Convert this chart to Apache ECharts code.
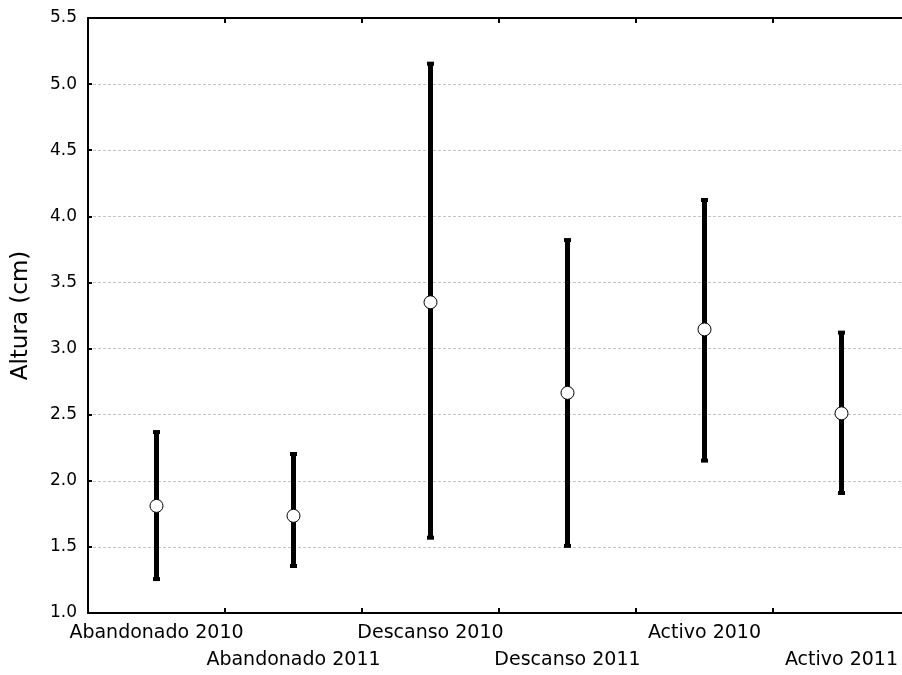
<!DOCTYPE html>
<html>
<head>
<meta charset="utf-8">
<script src="https://cdn.jsdelivr.net/npm/echarts@6/dist/echarts.min.js"></script>
<style>html,body{margin:0;padding:0;background:#fff;}#chart{width:902px;height:675px;}</style>
</head>
<body>
<div id="chart"></div>
<script>
const categories = ['Abandonado 2010', 'Abandonado 2011', 'Descanso 2010', 'Descanso 2011', 'Activo 2010', 'Activo 2011'];
const means = [1.81, 1.735, 3.35, 2.665, 3.145, 2.51];
const upper = [2.376, 2.21, 5.162, 3.828, 4.131, 3.128];
const lower = [1.249, 1.348, 1.562, 1.50, 2.145, 1.90];
const yTicks = { min: 1.0, max: 5.5, interval: 0.5 };

const chart = echarts.init(document.getElementById('chart'), null, { renderer: 'canvas' });
const font = 'DejaVu Sans';
const errData = categories.map((c, i) => [i, lower[i], upper[i]]);

chart.setOption({
  animation: false,
  backgroundColor: '#fff',
  grid: { left: 88, top: 18, width: 822, height: 595, containLabel: false, outerBoundsMode: 'none' },
  xAxis: [{
    type: 'category',
    data: categories,
    boundaryGap: true,
    position: 'bottom',
    axisLine: { lineStyle: { color: '#000', width: 2 } },
    axisTick: { show: true, inside: true, length: 5, interval: 0, lineStyle: { color: '#000', width: 2 } },
    axisLabel: {
      interval: 0, margin: 7, color: '#000', fontFamily: font, fontSize: 19, lineHeight: 27,
      formatter: (v, i) => (i % 2 === 1 ? '\n' + v : v)
    },
    splitLine: { show: false }
  }, {
    type: 'category',
    data: categories,
    boundaryGap: true,
    position: 'top',
    axisLine: { lineStyle: { color: '#000', width: 2 } },
    axisTick: { show: true, inside: true, length: 5, interval: 0, lineStyle: { color: '#000', width: 2 } },
    axisLabel: { show: false },
    splitLine: { show: false }
  }],
  yAxis: {
    type: 'value',
    min: yTicks.min, max: yTicks.max, interval: yTicks.interval,
    name: 'Altura (cm)',
    nameLocation: 'middle',
    nameGap: 55,
    nameTextStyle: { color: '#000', fontFamily: font, fontSize: 23 },
    axisLine: { show: true, lineStyle: { color: '#000', width: 2 } },
    axisTick: { show: true, inside: true, length: 4, lineStyle: { color: '#000', width: 2 } },
    axisLabel: { margin: 11, color: '#000', fontFamily: font, fontSize: 17, formatter: v => v.toFixed(1) },
    splitLine: { show: true, lineStyle: { color: '#c4c4c4', width: 1, type: [3, 2] } }
  },
  series: [{
    type: 'custom',
    data: errData,
    z: 2,
    renderItem: function (params, api) {
      const x = api.value(0);
      const lo = api.coord([x, api.value(1)]);
      const hi = api.coord([x, api.value(2)]);
      return {
        type: 'group',
        children: [
          { type: 'line', shape: { x1: lo[0], y1: lo[1], x2: hi[0], y2: hi[1] }, style: { stroke: '#000', lineWidth: 5 } },
          { type: 'rect', shape: { x: hi[0] - 3.5, y: hi[1] - 1, width: 7, height: 4 }, style: { fill: '#000' } },
          { type: 'rect', shape: { x: lo[0] - 3.5, y: lo[1] - 3, width: 7, height: 4 }, style: { fill: '#000' } }
        ]
      };
    }
  }, {
    type: 'scatter',
    data: means,
    z: 5,
    symbol: 'circle',
    symbolSize: 13,
    itemStyle: { color: '#fff', borderColor: '#000', borderWidth: 1, opacity: 1 }
  }]
});
</script>
</body>
</html>
